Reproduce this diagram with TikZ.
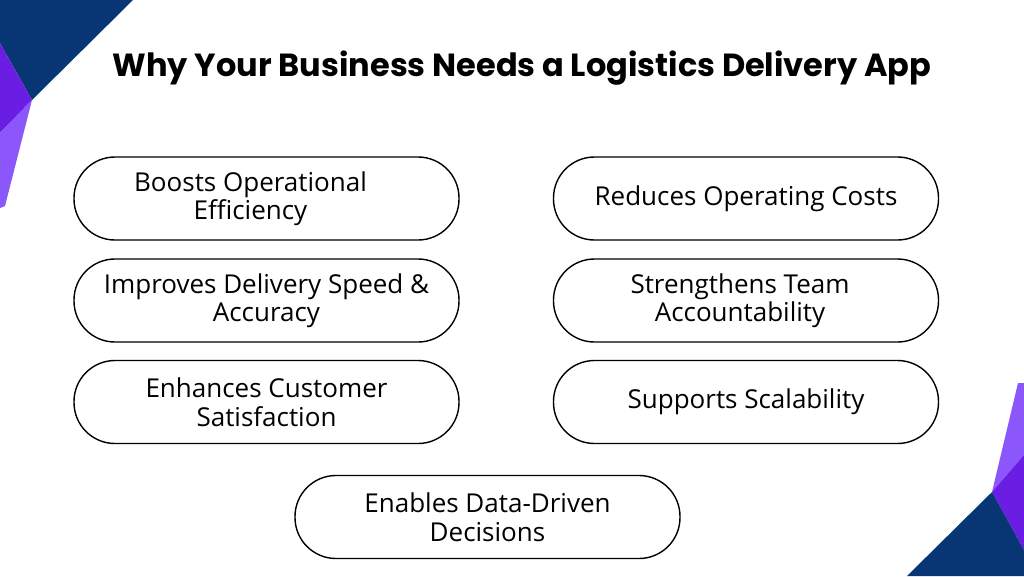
\documentclass[tikz,border=0pt]{standalone}
\usepackage{fontspec}
\setmainfont{Open Sans}
\newfontfamily\titlefont{Poppins}
\definecolor{navy}{RGB}{8,54,116}
\definecolor{violet}{RGB}{106,30,228}
\definecolor{lilac}{RGB}{139,86,250}
\tikzset{
  pill/.style={draw=black,line width=1.4pt,rectangle,rounded corners=41pt,
    minimum width=385pt,minimum height=83pt,inner sep=0pt,
    align=center,font=\fontsize{26}{28.5}\selectfont}
}

\begin{document}
\begin{tikzpicture}[x=1pt,y=-1pt]
		\useasboundingbox[fill=white] (0,0) rectangle (1024,576);
		% corner at top left
		\fill[navy] (0,0) -- (133,0) -- (32,100) -- (0,43) -- cycle;
		\fill[violet] (0,43) -- (32,100) -- (0,133) -- cycle;
		\fill[lilac] (0,133) -- (32,100) -- (5,206) -- (0,208) -- cycle;
		% corner at bottom right
		\fill[lilac] (1018,383) -- (1024,383) -- (1024,455) -- (992,492) -- cycle;
		\fill[violet] (1024,455) -- (992,492) -- (1024,550) -- cycle;
		\fill[navy] (992,492) -- (907,576) -- (1024,576) -- (1024,550) -- cycle;
		\node (title) at (522,68) {\titlefont\bfseries\fontsize{32}{40}\selectfont Why Your Business Needs a Logistics Delivery App};
		\node[pill] (boost) at (266.5,198.5) {\hspace*{-32pt}Boosts Operational\\\hspace*{-32pt}Efficiency};
		\node[pill] (speed) at (266.5,300.5) {Improves Delivery Speed \&\\Accuracy};
		\node[pill] (satis) at (266.5,402) {Enhances Customer\\Satisfaction};
		\node[pill] (costs) at (746,198.5) {\raisebox{3pt}{Reduces Operating Costs}};
		\node[pill] (team) at (746,300.5) {\hspace*{-12pt}Strengthens Team\\\hspace*{-12pt}Accountability};
		\node[pill] (scale) at (746,402) {Supports Scalability};
		\node[pill] (data) at (487.5,517) {Enables Data-Driven\\Decisions};
	\end{tikzpicture}
\end{document}
